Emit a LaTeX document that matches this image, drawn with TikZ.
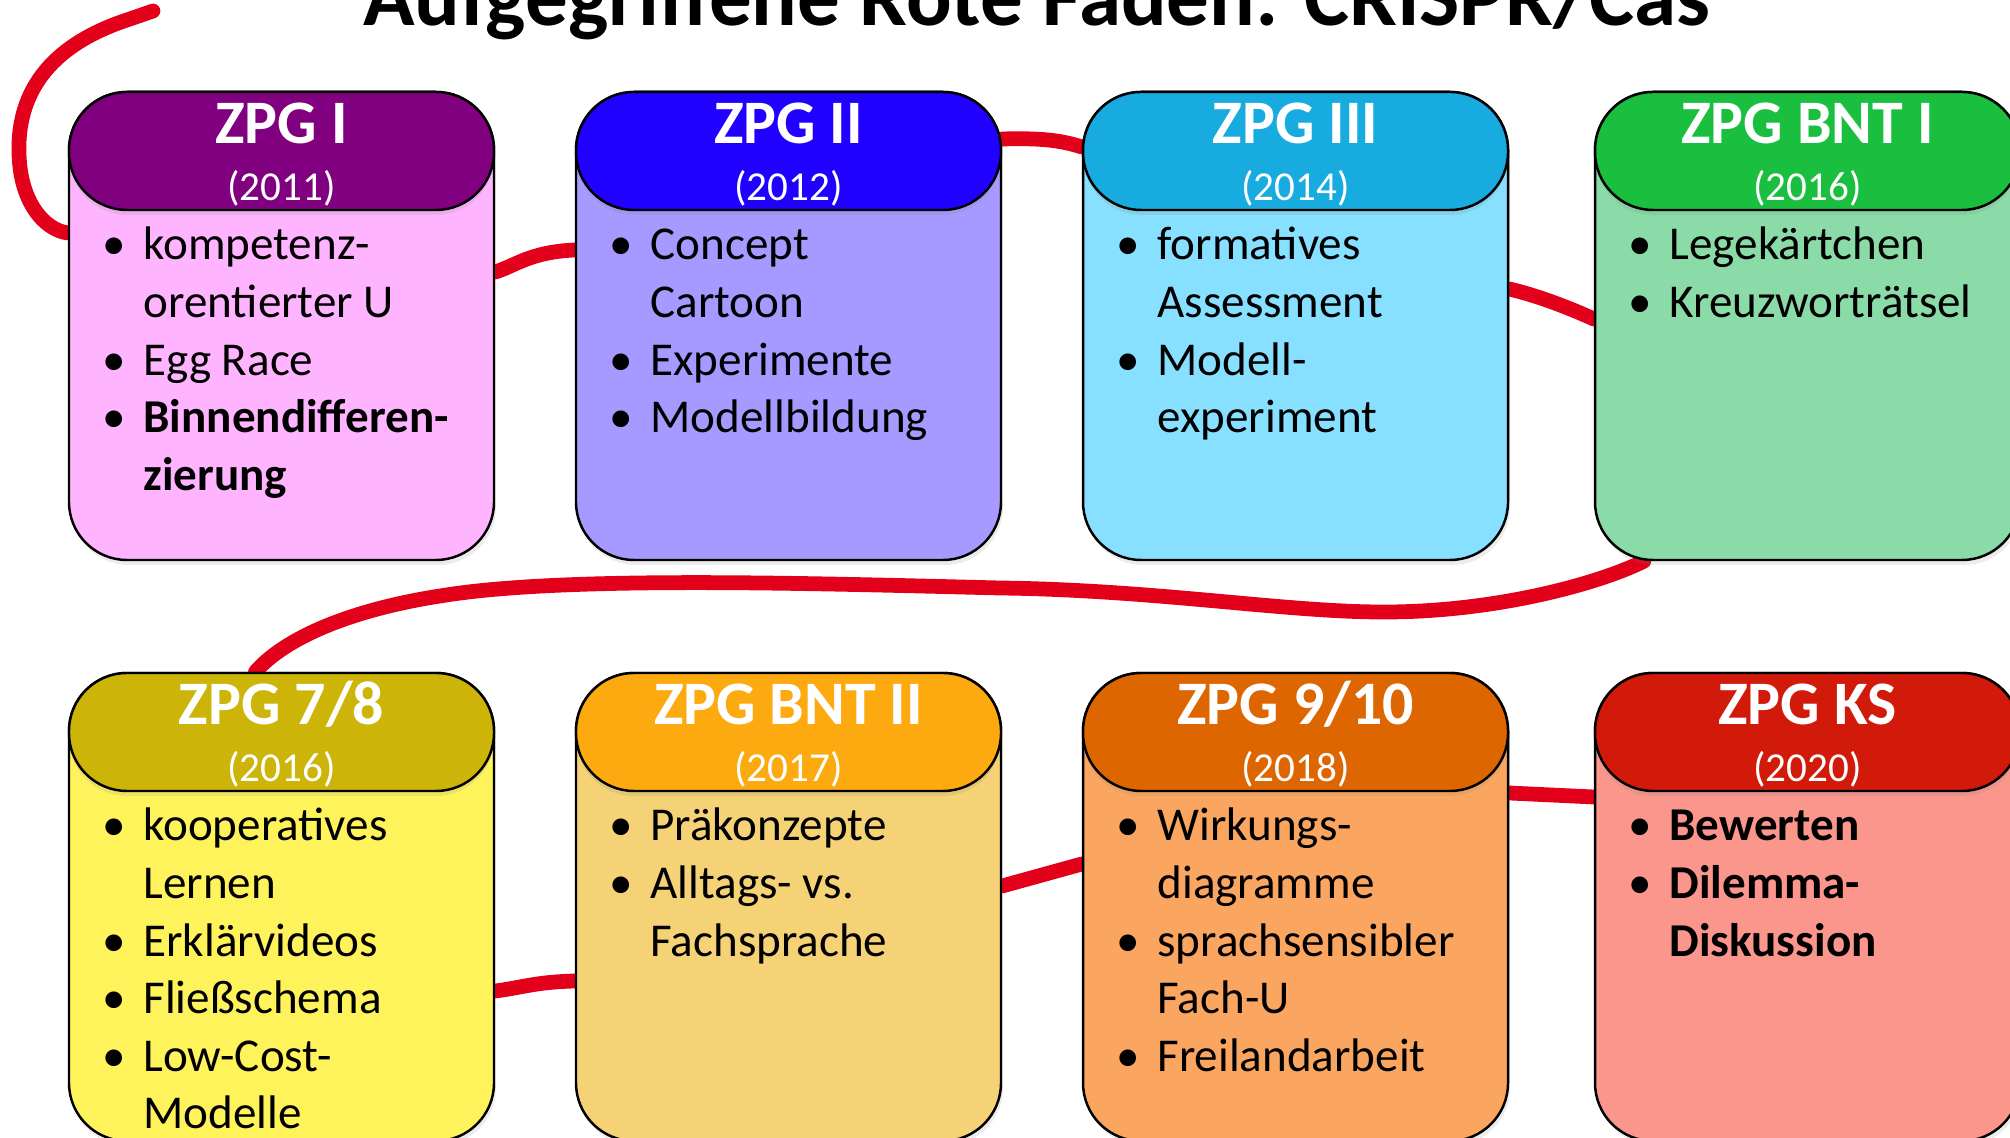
\documentclass[tikz,border=0pt]{standalone}
\usepackage{fontspec}
\setmainfont{Carlito}
\usepackage{tikz}
\usetikzlibrary{calc,positioning,shadows,backgrounds}

\definecolor{faden}{RGB}{226,0,26}
\definecolor{head1}{RGB}{128,0,128}  \definecolor{body1}{RGB}{255,180,255}
\definecolor{head2}{RGB}{32,0,255}   \definecolor{body2}{RGB}{166,153,255}
\definecolor{head3}{RGB}{24,171,224} \definecolor{body3}{RGB}{135,224,255}
\definecolor{head4}{RGB}{26,191,64}  \definecolor{body4}{RGB}{138,219,168}
\definecolor{head5}{RGB}{204,181,8}  \definecolor{body5}{RGB}{255,243,92}
\definecolor{head6}{RGB}{252,170,15} \definecolor{body6}{RGB}{245,210,117}
\definecolor{head7}{RGB}{222,102,0}  \definecolor{body7}{RGB}{251,166,96}
\definecolor{head8}{RGB}{209,26,10}  \definecolor{body8}{RGB}{250,150,140}

\newcommand{\itm}{\makebox[0.58cm][c]{\textbullet}}
\newcommand{\cont}{\hspace*{0.58cm}}

\begin{document}
\begin{tikzpicture}[body/.style={draw=black,line width=0.7pt,rounded corners=0.58cm,minimum width=4.25cm,minimum height=4.68cm,inner sep=0pt,drop shadow={opacity=0.15,shadow xshift=0.02cm,shadow yshift=-0.05cm}},
                    head/.style={draw=black,line width=0.7pt,rounded corners=0.58cm,minimum width=4.25cm,minimum height=1.18cm,inner sep=0pt,anchor=north,drop shadow={opacity=0.15,shadow xshift=0cm,shadow yshift=-0.05cm}},
                    zpg/.style={text=white,anchor=base,inner sep=0pt,font=\bfseries\fontsize{17.6}{20}\selectfont},
                    yr/.style={text=white,anchor=base,inner sep=0pt,font=\fontsize{11.7}{14}\selectfont},
                    items/.style={anchor=base west,inner sep=0pt,font=\fontsize{13.4}{16.4}\selectfont},
                    thread/.style={draw=faden,line width=4.2pt,line cap=round,line join=round}]
                                \useasboundingbox (0,0) rectangle (20.1,11.38);
                                \node[anchor=base,inner sep=0pt,font=\bfseries\fontsize{24.2}{29}\selectfont] (ti) at (10.37,11.12) {Aufgegriffene Rote Fäden: CRISPR/Cas};

                                % erste Reihe
                                \node[body,fill=body1] (z1) at (2.815,8.12) {};
                                \node[head,fill=head1] (h1) at (z1.north) {};
                                \node[zpg] (n1) at ([yshift=-0.53cm]z1.north) {ZPG I};
                                \node[yr] (y1) at ([yshift=-1.10cm]z1.north) {(2011)};
                                \node[items] (l1) at ([xshift=0.17cm,yshift=-1.69cm]z1.north west) {\parbox[t]{4cm}{\itm kompetenz-\\\cont orentierter U\\\itm Egg Race\\\itm \textbf{Binnendifferen-}\\\cont \textbf{zierung}}};

                                \node[body,fill=body2] (z2) at (7.885,8.12) {};
                                \node[head,fill=head2] (h2) at (z2.north) {};
                                \node[zpg] (n2) at ([yshift=-0.53cm]z2.north) {ZPG II};
                                \node[yr] (y2) at ([yshift=-1.10cm]z2.north) {(2012)};
                                \node[items] (l2) at ([xshift=0.17cm,yshift=-1.69cm]z2.north west) {\parbox[t]{4cm}{\itm Concept\\\cont Cartoon\\\itm Experimente\\\itm Modellbildung}};

                                \node[body,fill=body3] (z3) at (12.955,8.12) {};
                                \node[head,fill=head3] (h3) at (z3.north) {};
                                \node[zpg] (n3) at ([yshift=-0.53cm]z3.north) {ZPG III};
                                \node[yr] (y3) at ([yshift=-1.10cm]z3.north) {(2014)};
                                \node[items] (l3) at ([xshift=0.17cm,yshift=-1.69cm]z3.north west) {\parbox[t]{4cm}{\itm formatives\\\cont Assessment\\\itm Modell-\\\cont experiment}};

                                \node[body,fill=body4] (z4) at (18.075,8.12) {};
                                \node[head,fill=head4] (h4) at (z4.north) {};
                                \node[zpg] (n4) at ([yshift=-0.53cm]z4.north) {ZPG BNT I};
                                \node[yr] (y4) at ([yshift=-1.10cm]z4.north) {(2016)};
                                \node[items] (l4) at ([xshift=0.17cm,yshift=-1.69cm]z4.north west) {\parbox[t]{4cm}{\itm Legekärtchen\\\itm Kreuzworträtsel}};

                                % zweite Reihe
                                \node[body,fill=body5] (z5) at (2.815,2.31) {};
                                \node[head,fill=head5] (h5) at (z5.north) {};
                                \node[zpg] (n5) at ([yshift=-0.53cm]z5.north) {ZPG 7/8};
                                \node[yr] (y5) at ([yshift=-1.10cm]z5.north) {(2016)};
                                \node[items] (l5) at ([xshift=0.17cm,yshift=-1.69cm]z5.north west) {\parbox[t]{4cm}{\itm kooperatives\\\cont Lernen\\\itm Erklärvideos\\\itm Fließschema\\\itm Low-Cost-\\\cont Modelle}};

                                \node[body,fill=body6] (z6) at (7.885,2.31) {};
                                \node[head,fill=head6] (h6) at (z6.north) {};
                                \node[zpg] (n6) at ([yshift=-0.53cm]z6.north) {ZPG BNT II};
                                \node[yr] (y6) at ([yshift=-1.10cm]z6.north) {(2017)};
                                \node[items] (l6) at ([xshift=0.17cm,yshift=-1.69cm]z6.north west) {\parbox[t]{4cm}{\itm Präkonzepte\\\itm Alltags- vs.\\\cont Fachsprache}};

                                \node[body,fill=body7] (z7) at (12.955,2.31) {};
                                \node[head,fill=head7] (h7) at (z7.north) {};
                                \node[zpg] (n7) at ([yshift=-0.53cm]z7.north) {ZPG 9/10};
                                \node[yr] (y7) at ([yshift=-1.10cm]z7.north) {(2018)};
                                \node[items] (l7) at ([xshift=0.17cm,yshift=-1.69cm]z7.north west) {\parbox[t]{4cm}{\itm Wirkungs-\\\cont diagramme\\\itm sprachsensibler\\\cont Fach-U\\\itm Freilandarbeit}};

                                \node[body,fill=body8] (z8) at (18.075,2.31) {};
                                \node[head,fill=head8] (h8) at (z8.north) {};
                                \node[zpg] (n8) at ([yshift=-0.53cm]z8.north) {ZPG KS};
                                \node[yr] (y8) at ([yshift=-1.10cm]z8.north) {(2020)};
                                \node[items] (l8) at ([xshift=0.17cm,yshift=-1.69cm]z8.north west) {\parbox[t]{4cm}{\itm \textbf{Bewerten}\\\itm \textbf{Dilemma-}\\\cont \textbf{Diskussion}}};

                                % roter Faden
                                \coordinate (fa) at (1.53,11.27);
                                \begin{scope}[on background layer]
                                \draw[thread] (fa) -- (1.3,11.19) .. controls (0.55,10.95) and (0.17,10.5) .. (0.19,9.85) .. controls (0.2,9.35) and (0.45,9.08) .. ([yshift=0.93cm]z1.west);
                                \draw[thread] ([yshift=0.54cm]z1.east) .. controls (5.15,8.72) and (5.3,8.86) .. ([yshift=0.76cm]z2.west);
                                \draw[thread] ([yshift=0.12cm]h2.east) .. controls (10.4,10.0) and (10.6,9.98) .. ([yshift=0.04cm]h3.west);
                                \draw[thread] ([yshift=0.37cm]z3.east) .. controls (15.35,8.43) and (15.65,8.32) .. ([yshift=0.07cm]z4.west);
                                \draw[thread] ([xshift=0.5cm]z4.south west) .. controls (16.0,5.55) and (15.0,5.27) .. (13.9,5.26) .. controls (12.9,5.25) and (11.6,5.48) .. (10.0,5.5) .. controls (8.0,5.55) and (5.6,5.62) .. (4.4,5.42) .. controls (3.5,5.28) and (2.85,5.0) .. ([xshift=-0.26cm]h5.north);
                                \draw[thread] ([yshift=-0.84cm]z5.east) .. controls (5.2,1.50) and (5.35,1.56) .. ([yshift=-0.74cm]z6.west);
                                \draw[thread] ([yshift=0.21cm]z6.east) -- ([yshift=0.43cm]z7.west);
                                \draw[thread] ([yshift=1.14cm]z7.east) -- ([yshift=1.10cm]z8.west);
                                \end{scope}
                            \end{tikzpicture}
\end{document}
